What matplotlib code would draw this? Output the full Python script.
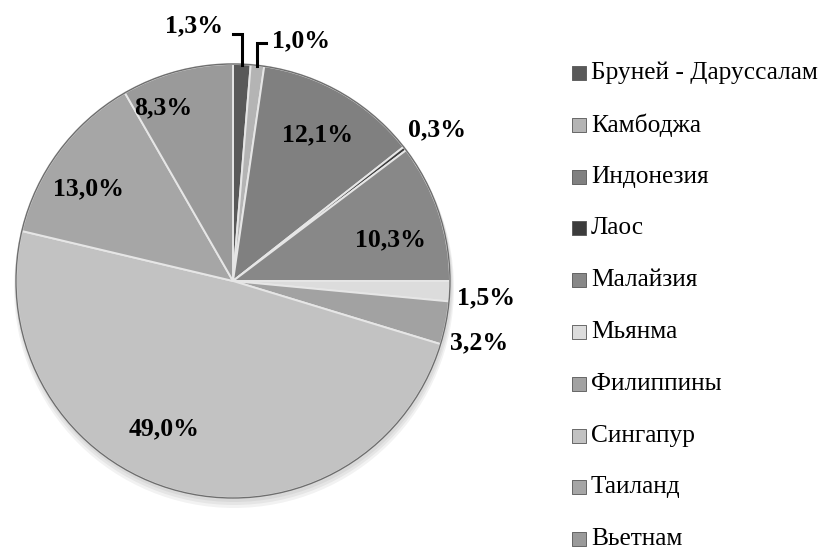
import matplotlib
matplotlib.use("Agg")
import matplotlib.pyplot as plt
import numpy as np
from matplotlib.patches import Circle

countries = ["Бруней - Даруссалам", "Камбоджа", "Индонезия", "Лаос", "Малайзия",
             "Мьянма", "Филиппины", "Сингапур", "Таиланд", "Вьетнам"]
shares = [1.3, 1.0, 12.1, 0.3, 10.3, 1.5, 3.2, 49.0, 13.0, 8.3]
labels = ["1,3%", "1,0%", "12,1%", "0,3%", "10,3%", "1,5%", "3,2%", "49,0%", "13,0%", "8,3%"]
colors = ["#595959", "#b4b4b4", "#808080", "#3c3c3c", "#888888",
          "#dcdcdc", "#a2a2a2", "#c2c2c2", "#a6a6a6", "#9a9a9a"]

W, H = 830, 549
fig = plt.figure(figsize=(W / 100, H / 100), dpi=100)
ax = fig.add_axes([0, 0, 1, 1])

cx, cy, R = 233, H - 281, 217

# soft shadow
for k in range(3):
    ax.add_patch(Circle((cx + 1, cy - 3 - k * 2), R + 1 + k, color="black",
                        alpha=0.05, lw=0, zorder=0))

wedges, _ = ax.pie(shares, colors=colors, startangle=90, counterclock=False,
                   center=(cx, cy), radius=R, frame=True,
                   wedgeprops=dict(edgecolor="#e6e6e6", linewidth=1.4))
for w in wedges:
    w.set_zorder(1)
ax.add_patch(Circle((cx, cy), R, fill=False, edgecolor="#6e6e6e", lw=1.0, zorder=2))
ax.set_xlim(0, W)
ax.set_ylim(0, H)
ax.axis("off")
ax.set_aspect("equal")

font = dict(family="Liberation Serif", fontweight="bold", fontsize=18.5, color="black")

# label placement style: radial factor per slice (None -> leader line)
rad = [None, None, 0.78, 1.17, 0.75, 1.17, 1.17, 0.75, 0.79, 0.86]
ang_shift = [0, 0, 0, -1, -4, -1, -3, -10, 4, 7]
for i, w in enumerate(wedges):
    mid = np.deg2rad((w.theta1 + w.theta2) / 2)
    if rad[i] is None:
        ex, ey = cx + R * np.cos(mid), cy + R * np.sin(mid) - 1
        top = cy + R + 30 - (i * 9)
        if i == 0:
            ax.plot([ex, ex, ex - 9], [ey, top, top], color="black", lw=2.2, zorder=3,
                    solid_joinstyle="miter")
            ax.text(ex - 19, top + 8, labels[i], ha="right", va="center", **font)
        else:
            ax.plot([ex, ex, ex + 9], [ey, top, top], color="black", lw=2.2, zorder=3,
                    solid_joinstyle="miter")
            ax.text(ex + 15, top + 2, labels[i], ha="left", va="center", **font)
        continue
    a = mid + np.deg2rad(ang_shift[i])
    ax.text(cx + rad[i] * R * np.cos(a), cy + rad[i] * R * np.sin(a), labels[i],
            ha="center", va="center", zorder=4, **font)

# legend drawn as markers + text
lx, ly0, dy = 579, H - 73, 51.8
for i, name in enumerate(countries):
    y = ly0 - i * dy
    ax.scatter([lx], [y], marker="s", s=90, color=colors[i], edgecolor="#555555",
               linewidth=0.6, zorder=5, clip_on=False)
    ax.text(lx + 12, y, name, ha="left", va="center", family="Liberation Serif",
            fontsize=18.3, color="black")

fig.savefig("out.png", dpi=100)
